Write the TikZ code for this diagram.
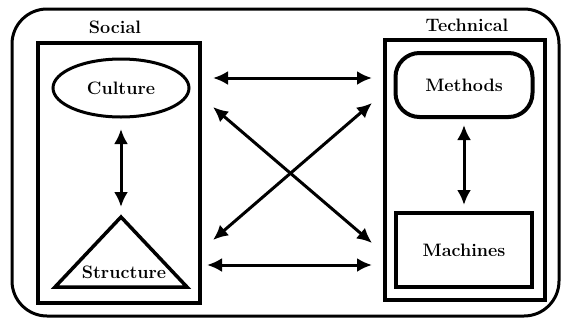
\documentclass[tikz,border=0pt]{standalone}
\usetikzlibrary{shapes.geometric}
\usetikzlibrary{arrows.meta}

\tikzset{
  label/.style={font=\fontsize{18}{21}\selectfont\bfseries},
  box/.style={draw, line width=4pt, outer sep=0pt},
  link/.style={{Latex[length=15pt,width=14pt]}-{Latex[length=15pt,width=14pt]}, line width=3pt}
}

\begin{document}
\begin{tikzpicture}[x=1pt,y=-1pt]
\useasboundingbox (0,0) rectangle (565,322);
\draw[rounded corners=35, line width=3pt] (12,9) rectangle (559,316);

\node[box, minimum width=162pt, minimum height=260pt] (social) at (119,173) {};
\node[box, minimum width=160pt, minimum height=260pt] (technical) at (465,170) {};
\node[label] (sociallabel) at (115,27) {Social};
\node[label] (technicallabel) at (467,25) {Technical};

\node[label, draw, ellipse, line width=3pt, minimum width=136pt, minimum height=58pt, outer sep=0pt] (culture) at (121,88) {Culture};
\node[label, box, rounded corners=24, minimum width=137pt, minimum height=64pt] (methods) at (464,85) {Methods};
\node[label, box, line width=4.5pt, minimum width=136pt, minimum height=74pt] (machines) at (464,250) {Machines};

\coordinate (apex) at (121,217);
\draw[line width=3.5pt, line join=miter] (apex) -- (55,287) -- (187,287) -- cycle;
\node[label] (structure) at (124,272) {Structure};

\draw[link, shorten <=12pt, shorten >=10pt] (culture.south) -- (apex);
\draw[link, shorten <=8pt, shorten >=8pt] (methods.south) -- (machines.north);

\coordinate (l1) at ([shift={(13,35)}]social.north east);
\coordinate (l2) at ([shift={(13,64)}]social.north east);
\coordinate (l3) at ([shift={(13,197)}]social.north east);
\coordinate (l4) at ([shift={(7,222)}]social.north east);
\coordinate (r1) at ([shift={(-13,38)}]technical.north west);
\coordinate (r2) at ([shift={(-13,63)}]technical.north west);
\coordinate (r3) at ([shift={(-13,203)}]technical.north west);
\coordinate (r4) at ([shift={(-13,225)}]technical.north west);

\draw[link] (l1) -- (r1);
\draw[link] (l2) -- (r3);
\draw[link] (l3) -- (r2);
\draw[link] (l4) -- (r4);
\end{tikzpicture}
\end{document}
